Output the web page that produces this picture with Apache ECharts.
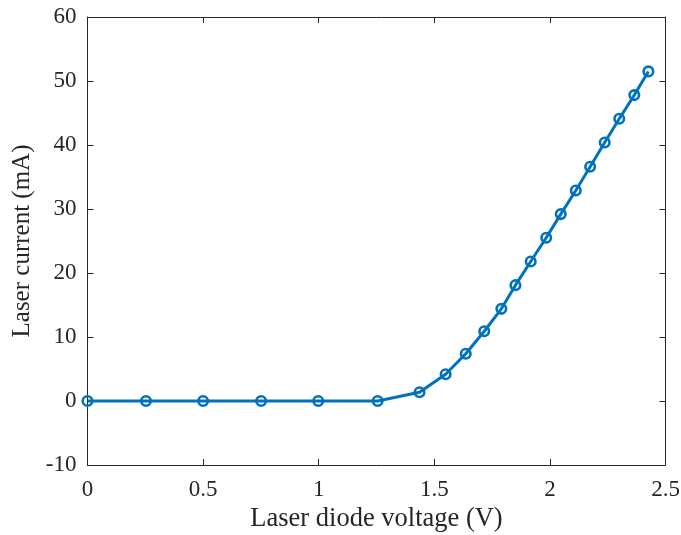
<!DOCTYPE html>
<html><head><meta charset="utf-8">
<script src="https://cdn.jsdelivr.net/npm/echarts@6/dist/echarts.min.js"></script>
<style>html,body{margin:0;padding:0;background:#fff}#c{width:681px;height:535px}</style>
</head><body><div id="c"></div>
<script>
const voltage = [0, 0.253, 0.5, 0.751, 0.998, 1.255, 1.436, 1.549, 1.636, 1.716, 1.790, 1.851, 1.917, 1.984, 2.047, 2.112, 2.174, 2.237, 2.300, 2.365, 2.426];
const current = [0, 0, 0, 0, 0, 0, 1.36, 4.17, 7.39, 10.9, 14.4, 18.1, 21.8, 25.5, 29.2, 32.9, 36.6, 40.4, 44.1, 47.8, 51.5];
const xName = 'Laser diode voltage (V)';
const yName = 'Laser current (mA)';

const FONT = 'Liberation Serif';
const TXT = '#262626';
const chart = echarts.init(document.getElementById('c'), null, {renderer: 'canvas'});
const axisCommon = {
  axisLine: {show: true, onZero: false, lineStyle: {color: TXT, width: 1}},
  axisTick: {show: true, inside: true, length: 6, lineStyle: {color: TXT, width: 1}},
  splitLine: {show: false}
};
chart.setOption({
  animation: false,
  grid: {left: 87.5, right: 15.5, top: 17, bottom: 70, containLabel: false, outerBoundsMode: 'none'},
  xAxis: [
    Object.assign({type: 'value', min: 0, max: 2.5, interval: 0.5, name: xName, nameLocation: 'middle', nameGap: 30,
      nameTextStyle: {fontFamily: FONT, fontSize: 26.5, color: TXT},
      axisLabel: {fontFamily: FONT, fontSize: 23, color: TXT, margin: 13}}, axisCommon),
    Object.assign({type: 'value', position: 'top', min: 0, max: 2.5, interval: 0.5, axisLabel: {show: false}}, axisCommon)
  ],
  yAxis: [
    Object.assign({type: 'value', min: -10, max: 60, interval: 10, name: yName, nameLocation: 'middle', nameGap: 47,
      nameTextStyle: {fontFamily: FONT, fontSize: 25, color: TXT},
      axisLabel: {fontFamily: FONT, fontSize: 23, color: TXT, margin: 11}}, axisCommon),
    Object.assign({type: 'value', position: 'right', min: -10, max: 60, interval: 10, axisLabel: {show: false}}, axisCommon)
  ],
  series: [{
    type: 'line',
    data: voltage.map((v, i) => [v, current[i]]),
    symbol: 'circle', symbolSize: 9.5,
    lineStyle: {color: '#0072BD', width: 3},
    itemStyle: {color: 'rgba(0,0,0,0)', borderColor: '#0072BD', borderWidth: 2.6},
    clip: false
  }]
});
</script></body></html>
